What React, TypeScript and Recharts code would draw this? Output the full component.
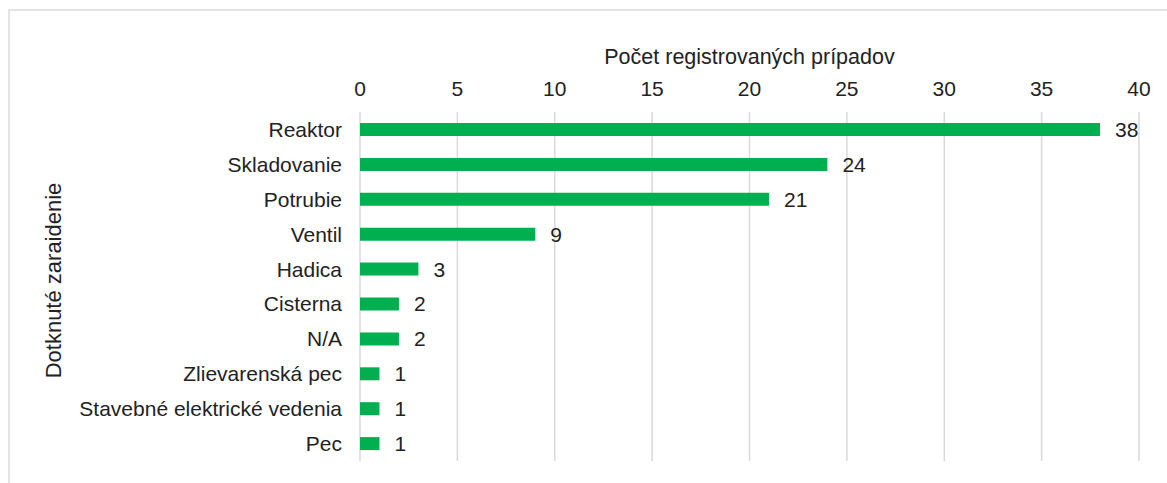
import React from 'react';
import { BarChart, Bar, XAxis, YAxis, CartesianGrid, LabelList, Label } from 'recharts';

const categories = [
  'Reaktor',
  'Skladovanie',
  'Potrubie',
  'Ventil',
  'Hadica',
  'Cisterna',
  'N/A',
  'Zlievarenská pec',
  'Stavebné elektrické vedenia',
  'Pec',
];
const counts = [38, 24, 21, 9, 3, 2, 2, 1, 1, 1];
const xTicks = [0, 5, 10, 15, 20, 25, 30, 35, 40];

const data = categories.map((name, i) => ({ name, count: counts[i] }));

const FONT = '"Liberation Sans", Arial, sans-serif';
const TEXT = '#222';

export default function App() {
  return (
    <div style={{ position: 'absolute', left: 0, top: 0, width: 1167, height: 483, background: '#fff', fontFamily: FONT }}>
      <div
        style={{
          position: 'absolute',
          left: 8,
          top: 9,
          right: 0,
          bottom: 0,
          borderTop: '2px solid #e3e3e3',
          borderLeft: '2px solid #e3e3e3',
        }}
      />
      <BarChart
        width={1167}
        height={483}
        data={data}
        layout="vertical"
        margin={{ top: 0, right: 28, bottom: 22, left: 0 }}
        style={{ position: 'absolute', left: 0, top: 0 }}
      >
        <CartesianGrid horizontal={false} stroke="#d9d9d9" strokeWidth={1.5} />
        <XAxis
          type="number"
          orientation="top"
          domain={[0, 40]}
          ticks={xTicks}
          height={112}
          axisLine={false}
          tickLine={false}
          tickSize={0}
          tickMargin={16}
          tick={{ fill: TEXT, fontSize: 21, fontFamily: FONT }}
        >
          <Label
            content={({ viewBox }: any) => (
              <text
                x={viewBox.x + viewBox.width / 2}
                y={64}
                textAnchor="middle"
                fill={TEXT}
                fontSize={21.5}
                fontFamily={FONT}
              >
                Počet registrovaných prípadov
              </text>
            )}
          />
        </XAxis>
        <YAxis
          type="category"
          dataKey="name"
          width={360}
          axisLine={false}
          tickLine={false}
          tickSize={0}
          tickMargin={18}
          interval={0}
          tick={{ fill: TEXT, fontSize: 21, fontFamily: FONT }}
        >
          <Label
            content={({ viewBox }: any) => {
              const cy = viewBox.y + viewBox.height / 2 - 6;
              return (
                <text
                  x={61}
                  y={cy}
                  transform={`rotate(-90, 61, ${cy})`}
                  textAnchor="middle"
                  fill={TEXT}
                  fontSize={22}
                  fontFamily={FONT}
                >
                  Dotknuté zaraidenie
                </text>
              );
            }}
          />
        </YAxis>
        <Bar dataKey="count" fill="#00b050" barSize={13} isAnimationActive={false}>
          <LabelList dataKey="count" position="right" offset={15} fill={TEXT} fontSize={21} fontFamily={FONT} />
        </Bar>
      </BarChart>
    </div>
  );
}
